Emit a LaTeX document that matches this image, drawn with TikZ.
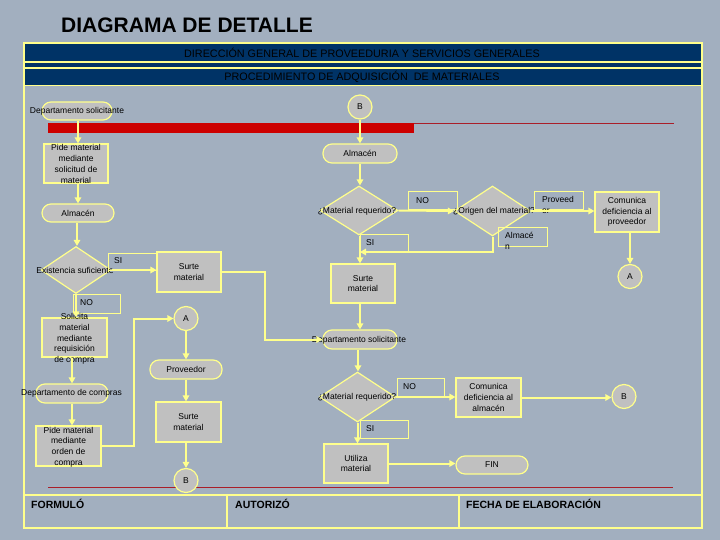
\documentclass[tikz,border=0pt]{standalone}
\usepackage{fontspec}
\setmainfont{Liberation Sans}
\usetikzlibrary{shapes.geometric,arrows.meta}
\definecolor{bgc}{RGB}{162,175,191}
\definecolor{gr}{RGB}{192,192,192}
\definecolor{yl}{RGB}{255,255,140}
\definecolor{navyc}{RGB}{0,51,102}
\definecolor{redc}{RGB}{204,0,0}
\definecolor{redthin}{RGB}{170,30,40}
\newcommand\smf{\fontsize{8.5}{10.7}\selectfont}
\tikzset{
  proc/.style={draw=yl, fill=gr, line width=1.2pt, inner sep=0pt, align=center, font=\smf},
  term/.style={proc, rounded corners=9pt},
  dec/.style={diamond, draw=yl, fill=gr, line width=1.2pt, inner sep=0pt},
  conn/.style={circle, draw=yl, fill=gr, line width=1.2pt, minimum size=24pt, inner sep=0pt, font=\smf},
  lbl/.style={draw=yl, line width=1pt, inner sep=0pt, minimum width=48pt, minimum height=18pt},
  txt/.style={font=\smf, align=center, inner sep=0pt},
  arr/.style={draw=yl, line width=2pt, -{Triangle[length=6pt,width=6.5pt]}},
  foot/.style={anchor=west, inner sep=0pt, font=\bfseries\fontsize{10.5}{12}\selectfont},
  band/.style={inner sep=0pt, text=black, font=\fontsize{10.8}{12}\selectfont}
}
\begin{document}
\begin{tikzpicture}[x=1pt,y=-1pt]
\fill[bgc] (0,0) rectangle (720,540);
\useasboundingbox (0,0) rectangle (720,540);
% title
\node[anchor=west, inner sep=0pt, font=\bfseries\fontsize{21}{24}\selectfont] (title) at (61,25) {DIAGRAMA DE DETALLE};
% header bands
\fill[navyc] (25,44) rectangle (701,85);
\draw[yl, line width=1.5pt] (24,62) -- (702,62);
\draw[yl, line width=1.5pt] (24,68) -- (702,68);
\draw[yl, line width=1.5pt] (24,85.5) -- (702,85.5);
\node[band] (h1) at (362,52.5) {DIRECCIÓN GENERAL DE PROVEEDURIA Y SERVICIOS GENERALES};
\node[band] (h2) at (362,77) {PROCEDIMIENTO DE ADQUISICIÓN\ \ DE MATERIALES};
% frame
\draw[yl, line width=2pt] (24,43) rectangle (702,528);
% footer table
\draw[yl, line width=2pt] (24,495) -- (702,495);
\draw[yl, line width=2pt] (227,495) -- (227,528);
\draw[yl, line width=2pt] (459,495) -- (459,528);
\node[foot] (f1) at (31,504) {FORMULÓ};
\node[foot] (f2) at (235,504) {AUTORIZÓ};
\node[foot] (f3) at (466,504) {FECHA DE ELABORACIÓN};
% red lines
\fill[redc] (48,123) rectangle (414,133);
\draw[redthin, line width=1pt] (414,123.5) -- (674,123.5);
\draw[redthin, line width=1pt] (48,487) -- (673,487);

% ---- left column ----
\node[term, minimum width=70pt, minimum height=18pt] (ds1) at (77,111) {};
\node[txt] (tds1) at (77,111) {Departamento solicitante};
\node[conn] (b1) at (360,107) {B};
\node[proc, minimum width=64pt, minimum height=39pt] (ps1) at (76,163.5) {};
\node[txt] (tps1) at (76,164) {Pide material\\mediante\\solicitud de\\material};
\node[term, minimum width=72pt, minimum height=18pt] (alm1) at (78,213) {Almacén};
\node[dec, minimum width=70pt, minimum height=47pt] (ex) at (76,270) {};
\node[txt] (tex) at (75,270) {Existencia suficiente};
\node[lbl, minimum width=49pt, minimum height=17pt] (lb1) at (132.5,261.5) {};
\node[txt, anchor=west] (tlb1) at (114,261) {SI};
\node[proc, minimum width=64pt, minimum height=40pt] (ss1) at (189,272) {Surte\\material};
\node[lbl, minimum width=47pt, minimum height=19pt] (lb2) at (96.5,303.5) {};
\node[txt, anchor=west] (tlb2) at (80,302.5) {NO};
\node[proc, minimum width=65pt, minimum height=39pt] (sm) at (74.5,337.5) {};
\node[txt] (tsm) at (74.5,339) {Solicita\\material\\mediante\\requisición\\de compra};
\node[term, minimum width=72pt, minimum height=19pt] (dc) at (72,393.5) {};
\node[txt] (tdc) at (71.5,393.5) {Departamento de compras};
\node[proc, minimum width=65pt, minimum height=40pt] (po) at (68.5,446) {};
\node[txt] (tpo) at (68.5,447) {Pide material\\mediante\\orden de\\compra};
\node[conn] (a1) at (186,318.5) {A};
\node[term, minimum width=72pt, minimum height=19pt] (prov) at (186,369.5) {Proveedor};
\node[proc, minimum width=65pt, minimum height=40pt] (ss3) at (188.5,422) {Surte\\material};
\node[conn] (b2) at (186,480.5) {B};

% ---- right column ----
\node[term, minimum width=74pt, minimum height=19pt] (alm2) at (360,153.5) {Almacén};
\node[dec, minimum width=78pt, minimum height=49pt] (d1) at (359,210.5) {};
\node[txt] (td1) at (357,211) {¿Material requerido?};
\node[lbl, minimum width=49pt, minimum height=18pt] (lb3) at (432.5,201) {};
\node[txt, anchor=west] (tlb3) at (416,201) {NO};
\node[dec, minimum width=76pt, minimum height=50pt] (d2) at (492.5,211) {};
\node[txt, anchor=west] (td2) at (453,211.5) {¿Origen del material?};
\node[lbl, minimum width=49pt, minimum height=18pt] (lb4) at (558.5,201) {};
\node[txt, anchor=north west, align=left] (tlb4) at (542,196) {Proveed\\or};
\node[proc, minimum width=64pt, minimum height=40pt] (cp) at (627,212) {Comunica\\deficiencia al\\proveedor};
\node[conn] (a2) at (630,276.5) {A};
\node[lbl, minimum width=49pt, minimum height=18pt] (lb5) at (522.5,237) {};
\node[txt, anchor=north west, align=left] (tlb5) at (505,232) {Almacé\\n};
\node[lbl, minimum width=48pt, minimum height=18pt] (lb6) at (384,243) {};
\node[txt, anchor=west] (tlb6) at (366,242.5) {SI};
\coordinate (j1) at (360,252);
\node[proc, minimum width=64pt, minimum height=39pt] (ss2) at (363,283.5) {Surte\\material};
\node[term, minimum width=74pt, minimum height=19pt] (ds2) at (360,339.5) {};
\node[txt] (tds2) at (359,340) {Departamento solicitante};
\node[dec, minimum width=76pt, minimum height=50pt] (d3) at (357.5,397) {};
\node[txt] (td3) at (357,397.5) {¿Material requerido?};
\node[lbl, minimum width=47pt, minimum height=18pt] (lb7) at (420.5,387) {};
\node[txt, anchor=west] (tlb7) at (403,387) {NO};
\node[proc, minimum width=65pt, minimum height=39pt] (ca) at (488.5,397.5) {Comunica\\deficiencia al\\almacén};
\node[conn] (b3) at (624,396.5) {B};
\node[lbl, minimum width=48pt, minimum height=18pt] (lb8) at (384,429) {};
\node[txt, anchor=west] (tlb8) at (366,429) {SI};
\node[proc, minimum width=64pt, minimum height=39pt] (ut) at (356,463.5) {Utiliza\\material};
\node[term, minimum width=72pt, minimum height=18pt] (fin) at (492,465) {FIN};

% ---- connectors ----
\draw[arr] (ds1.south -| 78,0) -- (ps1.north -| 78,0);
\draw[arr] (b1.south) -- (alm2.north);
\draw[arr] (ps1.south -| 78,0) -- (alm1.north -| 78,0);
\draw[arr] (alm1.south -| 77,0) -- (ex.north -| 77,0);
\draw[arr] (ex.east) -- (ex.east -| ss1.west);
\draw[arr] (ss1.east) -- ++(43,0) |- (ds2.west);
\draw[arr] (ex.south) -- (ex.south |- sm.north);
\draw[arr] (sm.south -| 72,0) -- (dc.north -| 72,0);
\draw[arr] (dc.south -| 72,0) -- (po.north -| 72,0);
\draw[arr] (po.east) -- ++(32,0) |- (a1.west);
\draw[arr] (a1.south) -- (prov.north);
\draw[arr] (prov.south) -- (prov.south |- ss3.north);
\draw[arr] (ss3.south -| 186,0) -- (b2.north);
\draw[arr] (alm2.south) -- (alm2.south |- d1.north);
\draw[arr] (d1.east) -- (d2.west);
\draw[arr] (d2.east) -- (d2.east -| cp.west);
\draw[arr] (cp.south -| 630,0) -- (a2.north);
\draw[arr] (d2.south) |- (j1);
\draw[arr] (d1.south -| 360,0) -- (ss2.north -| 360,0);
\draw[arr] (ss2.south -| 360,0) -- (ds2.north -| 360,0);
\draw[arr] (ds2.south -| 358,0) -- (d3.north -| 358,0);
\draw[arr] (d3.east) -- (d3.east -| ca.west);
\draw[arr] (ca.east) -- (ca.east -| b3.west);
\draw[arr] (d3.south) -- (d3.south |- ut.north);
\draw[arr] (ut.east) -- (ut.east -| fin.west);
\end{tikzpicture}
\end{document}
